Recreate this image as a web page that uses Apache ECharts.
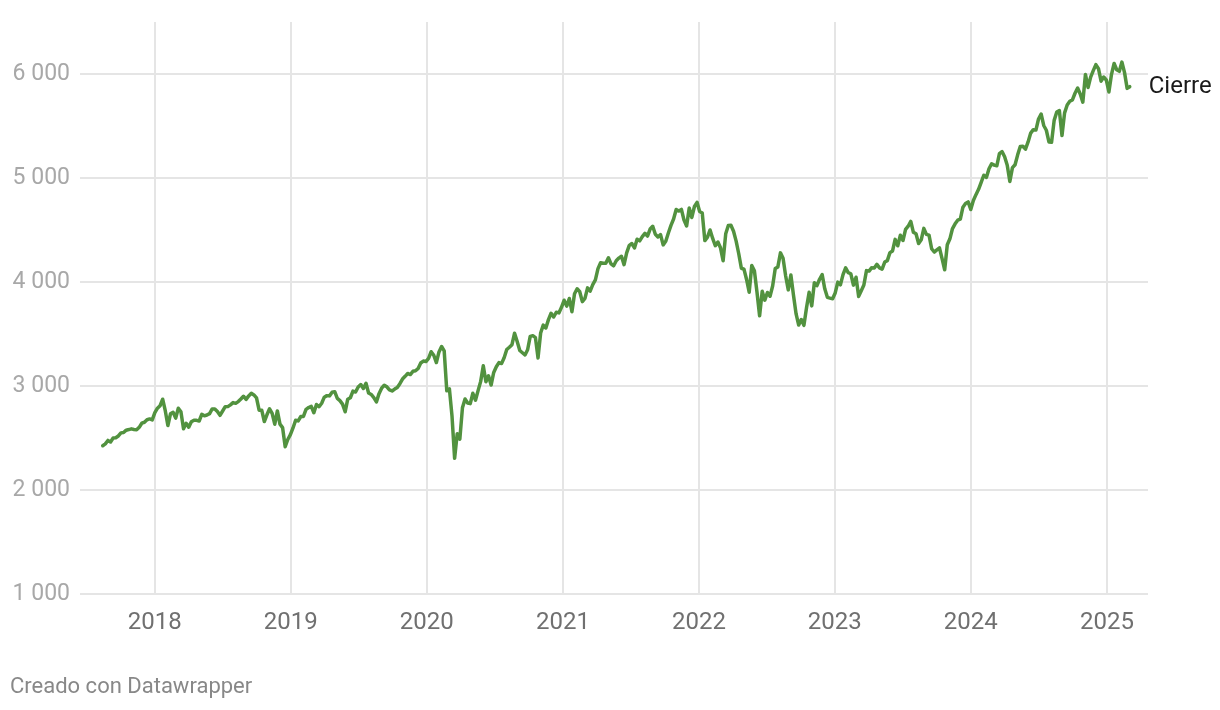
<!DOCTYPE html>
<html>
<head>
<meta charset="utf-8">
<script src="https://cdn.jsdelivr.net/npm/echarts@6/dist/echarts.min.js"></script>
<style>
html,body{margin:0;padding:0;background:#fff;}
#chart{width:1220px;height:710px;}
</style>
</head>
<body>
<div id="chart"></div>
<script>
// Weekly closing values (week starting Monday), first week: 2017-08-14
const firstWeek = [2017, 7, 14];
const close2017 = [2425.55,2443.05,2476.55,2461.43,2500.23,2502.22,2519.36,2549.33,2553.17,2575.21,2581.07,2587.84,2582.30,2578.85,2602.42,2642.22,2651.50,2675.81,2683.34,2673.61];
const close2018 = [2743.15,2786.24,2810.30,2872.87,2762.13,2619.55,2732.22,2747.30,2691.25,2786.57,2752.01,2588.26,2640.87,2604.47,2656.30,2670.14,2669.91,2663.42,2727.72,2712.97,2721.33,2734.62,2779.03,2779.42,2754.88,2718.37,2759.82,2801.31,2801.83,2818.82,2840.35,2833.28,2850.13,2874.69,2901.52,2871.68,2904.98,2929.67,2913.98,2885.57,2767.13,2767.78,2658.69,2723.06,2781.01,2736.27,2632.56,2760.17,2633.08,2599.95,2416.62,2485.74];
const close2019 = [2531.94,2596.26,2670.71,2664.76,2706.53,2707.88,2775.60,2792.67,2803.69,2743.07,2822.48,2800.71,2834.40,2892.74,2907.41,2905.03,2939.88,2945.64,2881.40,2859.53,2826.06,2752.06,2873.34,2886.98,2950.46,2941.76,2990.41,3013.77,2976.61,3025.86,2932.05,2918.65,2888.68,2847.11,2926.46,2978.71,3007.39,2992.07,2961.79,2952.01,2970.27,2986.20,3022.55,3066.91,3093.08,3120.46,3110.29,3140.98,3145.91,3168.80,3221.22,3240.02];
const close2020 = [3234.85,3265.35,3329.62,3295.47,3225.52,3327.71,3380.16,3337.75,2954.22,2972.37,2711.02,2304.92,2541.47,2488.65,2789.82,2874.56,2836.74,2830.71,2929.80,2863.70,2955.45,3044.31,3193.93,3041.31,3097.74,3009.05,3130.01,3185.04,3224.73,3215.63,3271.12,3351.28,3372.85,3397.16,3508.01,3426.96,3340.97,3319.47,3298.46,3348.44,3477.13,3483.81,3465.39,3269.96,3509.44,3585.15,3557.54,3638.35,3699.12,3663.46,3709.41,3703.06,3756.07];
const close2021 = [3824.68,3768.25,3841.47,3714.24,3886.83,3934.83,3906.71,3811.15,3841.94,3943.34,3913.10,3974.54,4019.87,4128.80,4185.47,4180.17,4181.17,4232.60,4173.85,4155.86,4204.11,4229.89,4247.44,4166.45,4280.70,4352.34,4369.55,4327.16,4411.79,4395.26,4436.52,4468.00,4441.67,4509.37,4535.43,4458.58,4432.99,4455.48,4357.04,4391.34,4471.37,4544.90,4605.38,4697.53,4682.85,4697.96,4594.62,4538.43,4712.02,4620.64,4725.79,4766.18];
const close2022 = [4677.03,4662.85,4397.94,4431.85,4500.53,4418.64,4348.87,4384.65,4328.87,4204.31,4463.12,4543.06,4545.86,4488.28,4392.59,4271.78,4131.93,4123.34,4023.89,3901.36,4158.24,4108.54,3900.86,3674.84,3911.74,3825.33,3899.38,3863.16,3961.63,4130.29,4145.19,4280.15,4228.48,4057.66,3924.26,4067.36,3873.33,3693.23,3585.62,3639.66,3583.07,3752.75,3901.06,3770.55,3992.93,3965.34,4026.12,4071.70,3934.38,3852.36,3844.82,3839.50];
const close2023 = [3895.08,3999.09,3972.61,4070.56,4136.48,4090.46,4079.09,3970.04,4045.64,3861.59,3916.64,3970.99,4109.31,4105.02,4137.64,4133.52,4169.48,4136.25,4124.08,4191.98,4205.45,4282.37,4298.86,4409.59,4348.33,4450.38,4398.95,4505.42,4536.34,4582.23,4478.03,4464.05,4369.71,4405.71,4515.77,4457.49,4450.32,4320.06,4288.05,4308.50,4327.78,4224.16,4117.37,4358.34,4415.24,4514.02,4559.34,4594.63,4604.37,4719.19,4754.63,4769.83];
const close2024 = [4697.24,4783.83,4839.81,4890.97,4958.61,5026.61,5005.57,5088.80,5137.08,5123.69,5117.09,5234.18,5254.35,5204.34,5123.41,4967.23,5099.96,5127.79,5222.68,5303.27,5304.72,5277.51,5346.99,5431.60,5464.62,5460.48,5567.19,5615.35,5505.00,5459.10,5346.56,5344.16,5554.25,5634.61,5648.40,5408.42,5626.02,5702.55,5738.17,5751.07,5815.03,5864.67,5808.12,5728.80,5995.54,5870.62,5969.34,6032.38,6090.27,6051.09,5930.85,5970.84];
const close2025 = [5942.47,5827.04,5996.66,6101.24,6040.53,6025.99,6114.63,6013.13,5861.57,5878.00];
const yearTicks = [2018, 2019, 2020, 2021, 2022, 2023, 2024, 2025];
const yTicks = [1000, 2000, 3000, 4000, 5000, 6000];
const seriesName = 'Cierre';
const footer = 'Creado con Datawrapper';

const closes = [].concat(close2017, close2018, close2019, close2020, close2021, close2022, close2023, close2024, close2025);
const data = closes.map((v, i) => [new Date(firstWeek[0], firstWeek[1], firstWeek[2] + 7 * i).getTime(), v]);
const yearTs = yearTicks.map(y => new Date(y, 0, 1).getTime());
const fmt = v => String(v).replace(/\B(?=(\d{3})+(?!\d))/g, ' ');

const FONT = 'Roboto';
const chart = echarts.init(document.getElementById('chart'), null, {renderer: 'canvas'});
chart.setOption({
  animation: false,
  backgroundColor: '#ffffff',
  grid: {left: 80, right: 72, top: 22, bottom: 116},
  xAxis: {
    type: 'value',
    min: new Date(2017, 5, 14).getTime(),
    max: new Date(2025, 3, 21).getTime(),
    axisLine: {show: false},
    axisTick: {show: false},
    splitLine: {show: false},
    axisLabel: {show: false}
  },
  yAxis: {
    type: 'value',
    min: yTicks[0], max: 6500, interval: 1000,
    axisLine: {show: false},
    axisTick: {show: false},
    splitLine: {show: true, showMaxLine: false, lineStyle: {color: ['#e5e5e5','#e5e5e5','#e5e5e5','#e5e5e5','#e5e5e5','#e5e5e5','rgba(0,0,0,0)'], width: 2}},
    axisLabel: {
      showMaxLabel: false,
      formatter: v => (v > yTicks[yTicks.length - 1] ? '' : fmt(v)),
      color: '#a8a8a8', fontSize: 23, fontFamily: FONT, margin: 10
    }
  },
  series: [{
    name: seriesName,
    type: 'line',
    data: data,
    showSymbol: false,
    symbol: 'none',
    z: 3,
    lineStyle: {color: '#52923f', width: 3.5, cap: 'round', join: 'round'},
    endLabel: {
      show: true, formatter: seriesName, color: '#1a1a1a',
      fontSize: 24, fontFamily: FONT, distance: 19
    },
    markLine: {
      silent: true, z: 1, symbol: ['none', 'none'],
      label: {
        show: true, position: 'start', distance: 17,
        formatter: p => String(new Date(p.value).getFullYear()),
        color: '#707070', fontSize: 24, fontFamily: FONT
      },
      lineStyle: {color: '#e5e5e5', width: 2, type: 'solid'},
      data: yearTs.map(t => ({xAxis: t}))
    }
  }],
  graphic: [{
    type: 'text', left: 10, top: 676,
    style: {text: footer, fill: '#888888', font: '22px Roboto'}
  }]
});
</script>
</body>
</html>
